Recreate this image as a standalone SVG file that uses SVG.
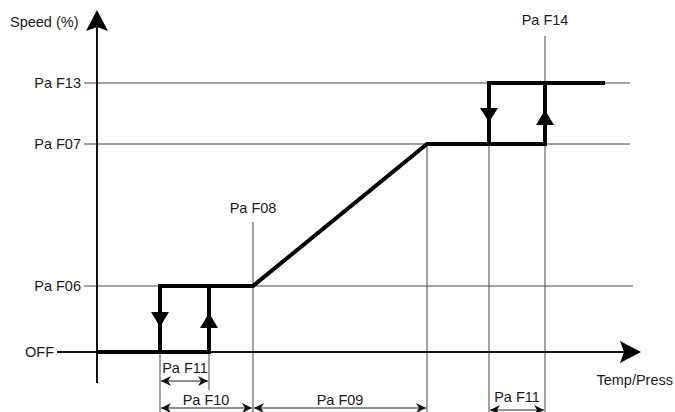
<svg xmlns="http://www.w3.org/2000/svg" width="675" height="412" viewBox="0 0 675 412">
<defs>
<style>
text{font-family:"Liberation Sans",Arial,sans-serif;font-size:14.5px;fill:#1a1a1a}
.thin{stroke:#444;stroke-width:1;fill:none}
.axis{stroke:#111;stroke-width:2;fill:none}
.curve{stroke:#000;stroke-width:4;fill:none;stroke-linejoin:miter}
.dim{stroke:#222;stroke-width:1.2;fill:none;marker-start:url(#da);marker-end:url(#da)}
.head{fill:#000}
</style>
<marker id="da" viewBox="0 0 10 10" refX="10" refY="5" markerWidth="10" markerHeight="10" markerUnits="userSpaceOnUse" orient="auto-start-reverse">
<path d="M0,0 L10,5 L0,10 L3,5 Z" fill="#111"/>
</marker>
</defs>
<rect width="675" height="412" fill="#fff"/>
<g id="grid">
<line class="thin" x1="84" y1="83" x2="630" y2="83"/>
<line class="thin" x1="84" y1="144" x2="630" y2="144"/>
<line class="thin" x1="84" y1="286" x2="633" y2="286"/>
<line class="thin" x1="160" y1="286" x2="160" y2="412"/>
<line class="thin" x1="209" y1="286" x2="209" y2="390"/>
<line class="thin" x1="253" y1="222" x2="253" y2="412"/>
<line class="thin" x1="427" y1="144" x2="427" y2="412"/>
<line class="thin" x1="489" y1="83" x2="489" y2="412"/>
<line class="thin" x1="545" y1="36" x2="545" y2="412"/>
</g>
<g id="axes">
<line class="axis" x1="97" y1="25" x2="97" y2="383"/>
<path class="head" d="M97,10 L108,31 L97,27 L86,31 Z"/>
<line class="axis" x1="57" y1="352" x2="625" y2="352"/>
<path class="head" d="M641,352 L620,341 L624,352 L620,363 Z"/>
</g>
<g id="curve">
<path class="curve" d="M97,352 H160 V286 H253 L427,144 H545 V83"/>
<path class="curve" d="M160,352 H209 V286"/>
<path class="curve" d="M489,144 V83 H605"/>
<path class="head" d="M151,312 L169,312 L160,327 Z"/>
<path class="head" d="M200,328 L218,328 L209,313 Z"/>
<path class="head" d="M480,108 L498,108 L489,122 Z"/>
<path class="head" d="M536,125 L554,125 L545,110 Z"/>
</g>
<g id="connectors">
<line class="dim" x1="161" y1="381" x2="208" y2="381"/>
<line class="dim" x1="161" y1="408" x2="252" y2="408"/>
<line class="dim" x1="254" y1="408" x2="426" y2="408"/>
<line class="dim" x1="490" y1="410" x2="544" y2="410"/>
</g>
<g id="labels">
<text x="10" y="27">Speed (%)</text>
<text x="81" y="88" text-anchor="end">Pa F13</text>
<text x="81" y="149" text-anchor="end">Pa F07</text>
<text x="81" y="291" text-anchor="end">Pa F06</text>
<text x="54" y="357" text-anchor="end">OFF</text>
<text x="253" y="213" text-anchor="middle">Pa F08</text>
<text x="545" y="25" text-anchor="middle">Pa F14</text>
<text x="673" y="385" text-anchor="end">Temp/Press</text>
<text x="185" y="373" text-anchor="middle">Pa F11</text>
<text x="206" y="405" text-anchor="middle">Pa F10</text>
<text x="340" y="405" text-anchor="middle">Pa F09</text>
<text x="517" y="402" text-anchor="middle">Pa F11</text>
</g>
</svg>
